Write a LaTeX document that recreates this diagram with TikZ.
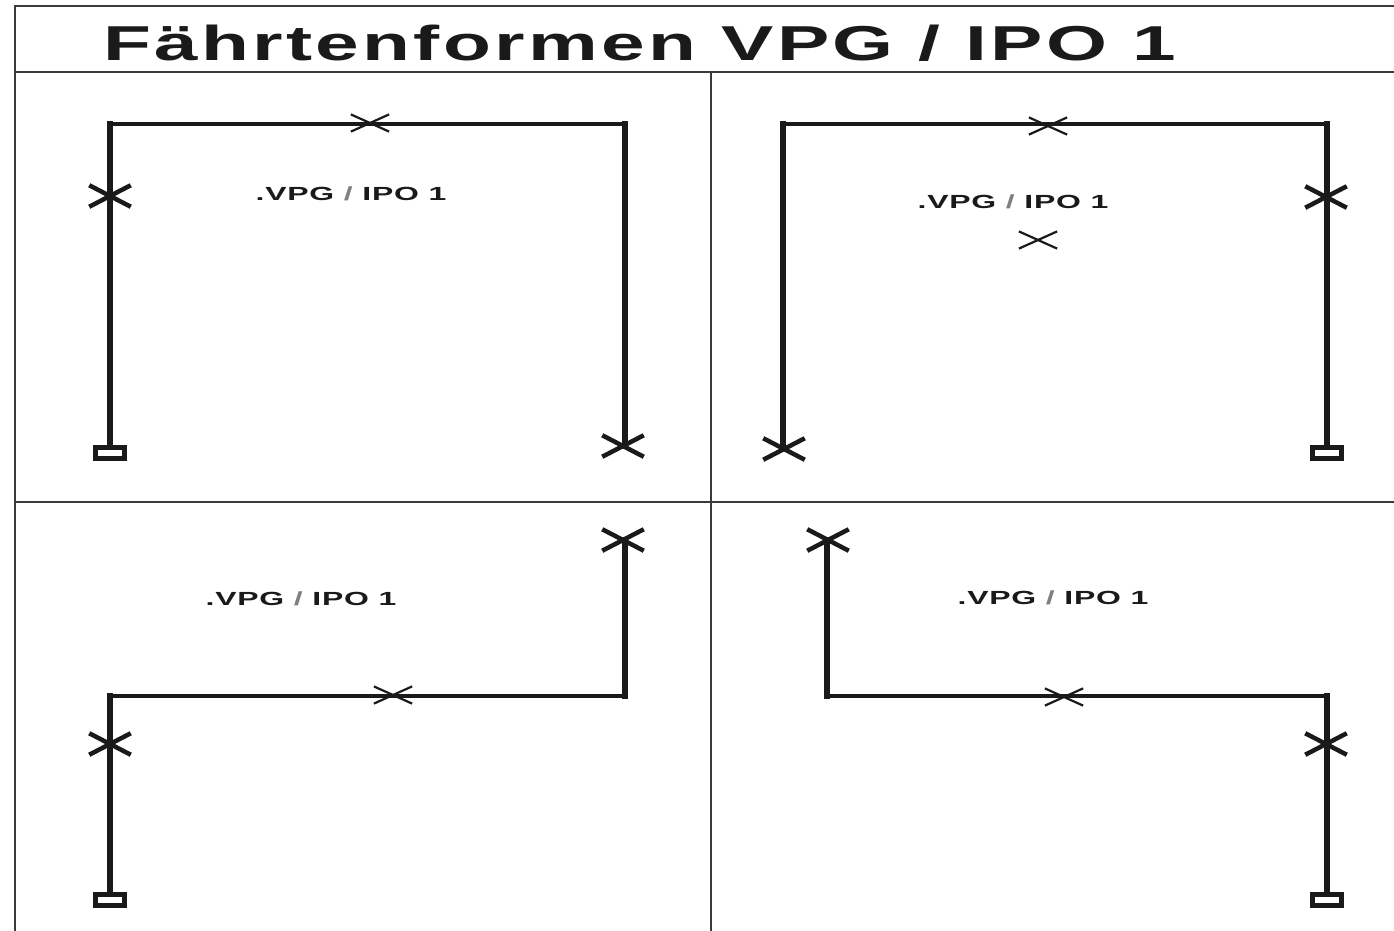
\documentclass[tikz,border=0pt]{standalone}
\usepackage{fontspec}
\setmainfont{Liberation Sans}
\newfontfamily\titlefont[FakeStretch=1.6,LetterSpace=6.8]{Liberation Sans}
\newfontfamily\tagfont[FakeStretch=1.68,LetterSpace=4]{Liberation Sans}
\usetikzlibrary{shapes.misc,positioning}
\definecolor{ink}{HTML}{1A1A1A}
\definecolor{rule}{HTML}{3A3A3A}

\begin{document}
\begin{tikzpicture}[x=1pt,y=-1pt,
  frame/.style={draw=rule,line width=2.5pt},
  trailh/.style={draw=ink,line width=3.5pt},
  trailv/.style={draw=ink,line width=6pt},
  startbox/.style={draw=ink,fill=white,line width=5.5pt,rectangle,inner sep=0pt,minimum width=29pt,minimum height=11pt},
  thinx/.style={cross out,draw=ink,line width=2.2pt,inner sep=0pt,minimum width=36pt,minimum height=15pt},
  boldx/.style={cross out,draw=ink,line width=4.5pt,inner sep=0pt,minimum width=37pt,minimum height=17pt},
  tag/.style={font=\tagfont\bfseries\fontsize{19}{21}\selectfont,text=ink,inner sep=0pt}]
\useasboundingbox (0,0) rectangle (1394,930);
\fill[white] (0,0) rectangle (1394,930);
% frame
\draw[frame] (15,935) -- (15,6) -- (1400,6);
\draw[frame] (15,72) -- (1400,72);
\draw[frame] (15,502) -- (1400,502);
\draw[frame] (711,72) -- (711,935);
\node[font=\titlefont\bfseries\fontsize{49}{52}\selectfont,text=ink,anchor=base west,inner sep=0pt] (title) at (103,60) {Fährtenformen VPG / IPO 1};

% top left
\node[startbox] (as) at (110,453) {};
\coordinate (a2) at (110,124);
\coordinate (a3) at (625,124);
\coordinate (a4) at (625,446);
\draw[trailh] (a2) -- (a3);
\draw[trailv,line cap=rect] (as.north) -- (a2);
\draw[trailv,line cap=rect] (a3) -- (a4);
\node[boldx] (ax1) at (110,196) {};
\node[thinx] (ax2) at (370,123) {};
\node[boldx] (ax3) at (623,446) {};
\node[tag] (atag) at (351,194) {.VPG {\color{gray}/} IPO 1};

% top right
\coordinate (b1) at (783,449);
\coordinate (b2) at (783,124);
\coordinate (b3) at (1327,124);
\node[startbox] (bs) at (1327,453) {};
\draw[trailh] (b2) -- (b3);
\draw[trailv,line cap=rect] (b1) -- (b2);
\draw[trailv,line cap=rect] (b3) -- (bs.north);
\node[boldx] (bx1) at (784,449) {};
\node[thinx] (bx2) at (1048,126) {};
\node[boldx] (bx3) at (1326,197) {};
\node[thinx] (bx4) at (1038,240) {};
\node[tag] (btag) at (1013,202) {.VPG {\color{gray}/} IPO 1};

% bottom left
\node[startbox] (cs) at (110,900) {};
\coordinate (c2) at (110,696);
\coordinate (c3) at (625,696);
\coordinate (c4) at (625,540);
\draw[trailh] (c2) -- (c3);
\draw[trailv,line cap=rect] (cs.north) -- (c2);
\draw[trailv,line cap=rect] (c3) -- (c4);
\node[boldx] (cx1) at (110,744) {};
\node[thinx] (cx2) at (393,695) {};
\node[boldx] (cx3) at (623,540) {};
\node[tag] (ctag) at (301,599) {.VPG {\color{gray}/} IPO 1};

% bottom right
\coordinate (d1) at (827,540);
\coordinate (d2) at (827,696);
\coordinate (d3) at (1327,696);
\node[startbox] (ds) at (1327,900) {};
\draw[trailh] (d2) -- (d3);
\draw[trailv,line cap=rect] (d1) -- (d2);
\draw[trailv,line cap=rect] (d3) -- (ds.north);
\node[boldx] (dx1) at (828,540) {};
\node[thinx] (dx2) at (1064,697) {};
\node[boldx] (dx3) at (1326,744) {};
\node[tag] (dtag) at (1053,598) {.VPG {\color{gray}/} IPO 1};
\end{tikzpicture}
\end{document}
